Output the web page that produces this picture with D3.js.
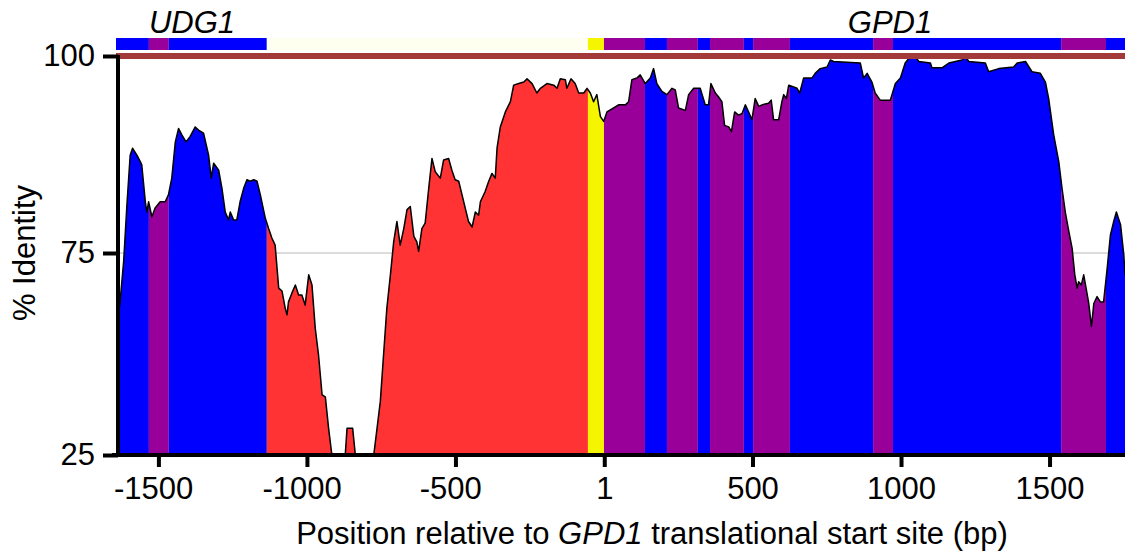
<!DOCTYPE html>
<html>
<head>
<meta charset="utf-8">
<script src="https://cdn.jsdelivr.net/npm/d3@7"></script>
<style>
  body { margin: 0; background: #fff; }
  svg text { font-family: "Liberation Sans", Arial, sans-serif; }
</style>
</head>
<body>
<script>
// alignment positions (bp relative to GPD1 start) and % identity
var positions = [-1636,-1629,-1617,-1606,-1595,-1587,-1572,-1561,-1556,-1544,-1539,-1533,-1522,-1511,-1494,-1477,-1466,-1455,-1443,-1432,-1421,-1407,-1393,-1376,-1365,-1348,-1331,-1322,-1314,-1297,-1286,-1275,-1264,-1258,-1247,-1236,-1225,-1213,-1202,-1191,-1179,-1168,-1157,-1140,-1129,-1118,-1107,-1095,-1084,-1073,-1067,-1062,-1051,-1039,-1028,-1017,-1006,-994,-983,-972,-961,-949,-938,-927,-916,-871,-865,-846,-837,-775,-764,-753,-742,-731,-719,-708,-697,-686,-674,-663,-652,-640,-630,-624,-613,-602,-590,-579,-568,-551,-540,-523,-512,-501,-489,-478,-467,-456,-444,-433,-422,-416,-400,-388,-377,-366,-360,-349,-332,-315,-304,-287,-270,-259,-242,-226,-214,-192,-169,-158,-147,-130,-125,-111,-97,-85,-68,-57,-46,-35,-24,-12,-1,10,27,49,72,83,94,111,122,139,156,167,178,195,212,229,240,251,274,285,302,324,341,352,360,375,386,397,406,420,429,440,453,465,476,487,498,509,521,532,554,563,571,588,599,605,614,622,650,659,672,700,711,728,751,762,773,863,874,886,902,913,930,964,981,998,1014,1031,1048,1060,1099,1104,1138,1161,1205,1217,1228,1284,1295,1329,1379,1391,1419,1441,1469,1486,1497,1514,1531,1542,1553,1565,1576,1585,1593,1598,1607,1615,1623,1632,1641,1649,1660,1671,1682,1694,1705,1716,1725,1739,1750,1754];
var identity = [58.8,62.9,72.9,81.1,87.4,88.3,87.4,86.6,86.2,81.5,80.2,81.5,79.6,80.7,81.5,81.5,82.4,84.5,89.1,90.8,90.0,89.1,89.8,91.0,90.6,90.2,87.4,84.5,86.4,85.5,83.2,80.2,79.2,80.2,79.2,79.2,81.5,83.2,84.3,84.1,84.3,84.1,82.4,79.4,78.1,76.9,76.0,66.3,65.6,61.3,59.7,62.9,65.0,67.1,64.6,64.6,62.1,69.6,67.1,56.4,49.8,39.9,39.4,31.6,25,25,31.6,31.6,25,25,31.6,38.2,49.8,61.3,69.6,76.4,79.0,76.0,78.1,80.5,80.9,77.1,76.4,75.2,78.1,78.8,83.2,87.0,85.3,84.5,86.8,87.0,85.5,84.3,84.1,82.4,80.7,79.0,78.3,80.2,79.8,81.5,82.8,84.1,85.1,84.5,88.3,91.0,92.9,94.2,96.3,96.5,96.7,97.1,96.5,95.3,95.9,96.5,96.3,95.9,97.1,97.0,95.9,97.1,96.5,95.3,95.3,95.9,95.3,94.2,95.1,92.3,91.7,92.9,93.3,93.8,93.8,94.2,97.0,97.2,97.6,96.5,97.2,98.4,96.5,95.5,95.1,95.9,95.7,93.4,93.1,95.1,95.9,95.9,93.8,93.8,96.5,95.3,94.8,94.2,91.2,91.0,90.4,92.9,92.5,92.7,93.8,92.9,91.9,94.6,93.6,93.8,94.0,94.4,91.9,91.9,94.2,95.1,94.6,96.3,95.9,95.3,97.2,97.2,97.8,98.4,98.6,99.5,99.3,99.1,97.2,97.8,96.7,95.3,94.4,94.4,96.5,97.2,99.1,99.9,99.9,99.3,99.1,98.5,98.5,99.1,99.5,99.9,99.3,99.1,98.0,98.4,98.6,99.1,99.3,98.0,97.8,96.7,94.6,90.0,86.6,83.2,80.2,77.7,75.6,69.6,66.3,67.9,67.1,69.6,66.3,62.5,56.8,62.5,64.2,62.9,62.9,71.2,77.3,79.0,80.2,78.6,74.5,69.6];

// annotation segments
var segStart = [-1636,-1532,-1465,-1135,-54,0,138,212,316,357,471,502,626,906,973,1539,1690];
var segEnd   = [-1532,-1465,-1135,-54,0,138,212,316,357,471,502,626,906,973,1539,1690,1754];
var segType  = ["exon","utr","exon","cns","start","utr","exon","utr","exon","utr","exon","utr","exon","utr","exon","utr","exon"];

var genes = ["UDG1","GPD1"];
var genePos = [-1387, 963];

var xTicks = [-1500,-1000,-500,1,500,1000,1500];
var yTicks = [25,75,100];

var fillColor = {exon:"#0000ff", utr:"#990099", cns:"#ff3333", start:"#f5f500"};
var barColor  = {exon:"#0000ff", utr:"#990099", cns:"#fffff0", start:"#f5f500"};

var W = 1125, H = 552;
var fs = 31;

var svg = d3.select("body").append("svg")
    .attr("width", W)
    .attr("height", H);

var x = d3.scaleLinear().domain([-1636, 1754]).range([118, 1125]);
var y = d3.scaleLinear().domain([25, 75, 100]).range([455, 253, 56]);

var data = positions.map(function(p, i){ return {pos: p, id: identity[i]}; });
var segs = segStart.map(function(s, i){ return {s: s, e: segEnd[i], t: segType[i]}; });

// gridline at 75
svg.append("line")
    .attr("x1", x.range()[0]).attr("x2", x.range()[1])
    .attr("y1", y(75)).attr("y2", y(75))
    .attr("stroke", "#d0d0d0")
    .attr("stroke-width", 1.5);

var area = d3.area()
    .x(function(d){ return x(d.pos); })
    .y0(y(25))
    .y1(function(d){ return y(d.id); });

svg.append("clipPath").attr("id", "curveClip")
  .append("path")
    .attr("d", area(data));

svg.append("g")
    .attr("clip-path", "url(#curveClip)")
  .selectAll("rect")
  .data(segs)
  .enter()
  .append("rect")
    .attr("x", function(d){ return x(d.s); })
    .attr("width", function(d){ return x(d.e) - x(d.s); })
    .attr("y", y(100))
    .attr("height", y(25) - y(100))
    .attr("fill", function(d){ return fillColor[d.t]; });

var line = d3.line()
    .x(function(d){ return x(d.pos); })
    .y(function(d){ return y(d.id); });

svg.append("path")
    .attr("d", line(data))
    .attr("fill", "none")
    .attr("stroke", "#000")
    .attr("stroke-width", 1.5)
    .attr("stroke-linejoin", "round");

// annotation bar on top
svg.append("g").selectAll("rect")
  .data(segs)
  .enter()
  .append("rect")
    .attr("x", function(d, i){ return i == 0 ? x(d.s) - 2 : x(d.s); })
    .attr("width", function(d, i){ return x(d.e) - x(d.s) + (i == 0 ? 2 : 0); })
    .attr("y", 38)
    .attr("height", 12)
    .attr("fill", function(d){ return barColor[d.t]; });

// brown conservation bar
svg.append("rect")
    .attr("x", x.range()[0] - 2)
    .attr("width", x.range()[1] - x.range()[0] + 2)
    .attr("y", 53)
    .attr("height", 6)
    .attr("fill", "#a33a3a");

// gene names
svg.append("g").selectAll("text")
  .data(genes)
  .enter()
  .append("text")
    .attr("x", function(d, i){ return x(genePos[i]); })
    .attr("y", 33)
    .attr("text-anchor", "middle")
    .attr("font-style", "italic")
    .attr("font-size", fs)
    .text(function(d){ return d; });

// axes
var yAxis = svg.append("g")
    .attr("transform", "translate(" + x.range()[0] + ",0)")
    .call(d3.axisLeft(y).tickValues(yTicks).tickSize(15).tickSizeOuter(0).tickPadding(8));

var xAxis = svg.append("g")
    .attr("transform", "translate(0," + y(25) + ")")
    .call(d3.axisBottom(x).tickValues(xTicks).tickSize(12).tickSizeOuter(0).tickPadding(10)
        .tickFormat(function(d){ return String(d); }));

xAxis.select(".domain").attr("d", "M" + (x.range()[0] - 6) + ",0H" + x.range()[1]);

[yAxis, xAxis].forEach(function(g){
    g.select(".domain").attr("stroke", "#000").attr("stroke-width", 4);
    g.selectAll(".tick line").attr("stroke", "#000").attr("stroke-width", 4);
    g.selectAll(".tick text")
        .attr("fill", "#000")
        .attr("font-size", fs)
        .attr("font-family", "Liberation Sans, Arial, sans-serif");
});
yAxis.select(".domain").attr("d", "M0," + (y(25) + 2) + "V" + (y(100) - 1));
xAxis.selectAll(".tick text")
    .attr("dx", function(d){ return d < 0 ? "-0.17em" : 0; });

// axis titles
var title = svg.append("text")
    .attr("x", 652)
    .attr("y", 544)
    .attr("text-anchor", "middle")
    .attr("font-size", fs);
title.append("tspan").text("Position relative to ");
title.append("tspan").attr("font-style", "italic").text("GPD1");
title.append("tspan").text(" translational start site (bp)");

svg.append("text")
    .attr("transform", "translate(35," + y(75) + ") rotate(-90)")
    .attr("text-anchor", "middle")
    .attr("font-size", fs)
    .text("% Identity");
</script>
</body>
</html>
